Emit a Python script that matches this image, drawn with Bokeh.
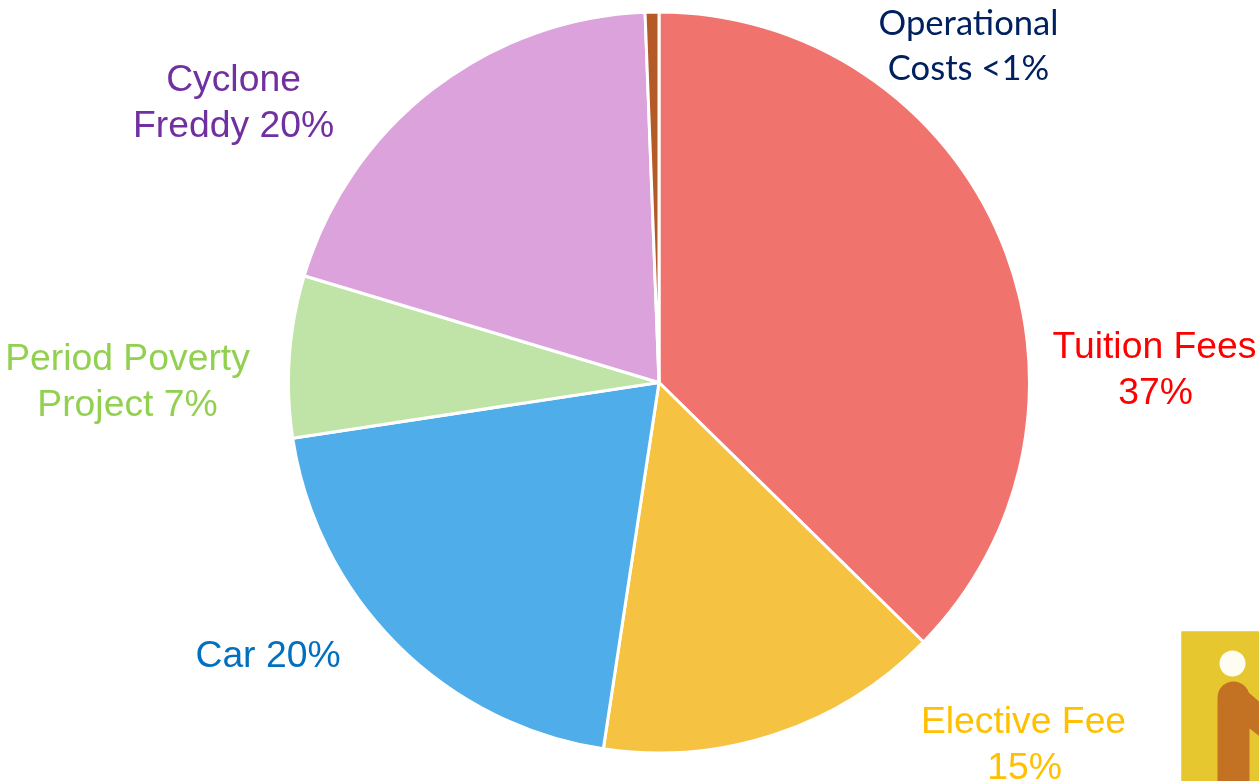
import numpy as np
from bokeh.plotting import figure
from bokeh.models import Range1d, ColumnDataSource
from bokeh.core.properties import value
from bokeh.embed import file_html
from bokeh.resources import INLINE

categories = ["Tuition Fees", "Elective Fee", "Car", "Period Poverty Project", "Cyclone Freddy", "Operational Costs"]
shares = [37.35, 15.05, 20.2, 7.05, 19.75, 0.6]
slice_colors = ["#F0736E", "#F5C242", "#4FADEA", "#C0E4A7", "#DBA2DB", "#B55A26"]

label_lines = [
    ("Tuition Fees", 1154, 344.5, "#FF0000", 37.3, "Liberation Sans"),
    ("37%", 1155, 390.5, "#FF0000", 37.3, "Liberation Sans"),
    ("Elective Fee", 1023, 719.5, "#FFC000", 37.3, "Liberation Sans"),
    ("15%", 1024, 765, "#FFC000", 37.3, "Liberation Sans"),
    ("Car 20%", 267.5, 653, "#0070C0", 37.3, "Liberation Sans"),
    ("Period Poverty", 127, 356.5, "#92D050", 37.3, "Liberation Sans"),
    ("Project 7%", 127, 402.5, "#92D050", 37.3, "Liberation Sans"),
    ("Cyclone", 233, 77, "#7030A0", 37.3, "Liberation Sans"),
    ("Freddy 20%", 233, 123, "#7030A0", 37.3, "Liberation Sans"),
    ("Operational", 968, 20.5, "#002060", 34.6, "Lato"),
    ("Costs <1%", 968, 66, "#002060", 34.6, "Lato"),
]

W, H = 1259, 781
CX, CY, R = 658.5, 382, 370.5

p = figure(width=W, height=H, output_backend="svg", toolbar_location=None,
           x_range=Range1d(0, W), y_range=Range1d(H, 0), min_border=0)
p.axis.visible = False
p.grid.visible = False
p.outline_line_color = None
p.styles = {"position": "fixed", "left": "0px", "top": "0px"}

# Wedge angles are screen angles; slices run clockwise from the top
fr = np.cumsum([0] + shares) / sum(shares)
starts = (np.pi / 2 - 2 * np.pi * fr[1:]).tolist()
ends = (np.pi / 2 - 2 * np.pi * fr[:-1]).tolist()
src = ColumnDataSource(dict(start=starts, end=ends, color=slice_colors, name=categories))
p.wedge(x=CX, y=CY, radius=R, start_angle="start", end_angle="end", direction="anticlock",
        fill_color="color", line_color="white", line_width=3, source=src)

for txt, x, y, col, size, font in label_lines:
    p.text([x], [y], text=[txt], text_color=col, text_font=value(font), text_font_size=f"{size}px",
           text_align="center", text_baseline="middle")

# small logo fragment, bottom right corner
p.quad(left=[1181], right=[1262], top=[631], bottom=[784], fill_color="#E6C72F", line_color="#EBD36A", line_width=1)
p.circle([1232], [663], radius=13, fill_color="#FFFDF2", line_color=None)
p.quad(left=[1217], right=[1249], top=[700], bottom=[784], fill_color="#C27222", line_color=None)
p.circle([1233], [697], radius=16, fill_color="#C27222", line_color=None)
p.patch([1222, 1240, 1262, 1262, 1249], [685, 685, 704, 738, 728], fill_color="#C27222", line_color=None)

open("out.html", "w").write(file_html(p, INLINE))
